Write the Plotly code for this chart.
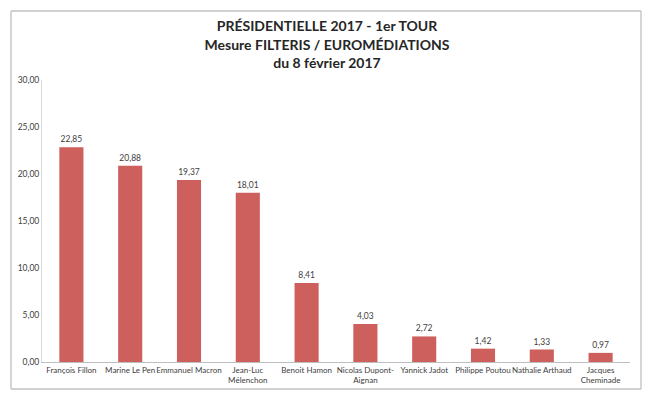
import plotly.graph_objects as go

## DATA ##
candidats = [
    "François Fillon", "Marine Le Pen", "Emmanuel Macron", "Jean-Luc<br>Mélenchon",
    "Benoit Hamon", "Nicolas Dupont-<br>Aignan", "Yannick Jadot", "Philippe Poutou",
    "Nathalie Arthaud", "Jacques<br>Cheminade",
]
scores = [22.85, 20.88, 19.37, 18.01, 8.41, 4.03, 2.72, 1.42, 1.33, 0.97]
y_ticks = [0, 5, 10, 15, 20, 25, 30]
titre = "PRÉSIDENTIELLE 2017 - 1er TOUR<br>Mesure FILTERIS / EUROMÉDIATIONS<br>du 8 février 2017"


def fr(v):
    """format décimal à la française"""
    return f"{v:.2f}".replace(".", ",")


fig = go.Figure()
fig.add_trace(go.Bar(
    x=candidats,
    y=scores,
    text=[fr(s) for s in scores],
    textposition="outside",
    textfont=dict(size=8.5, color="#404040"),
    cliponaxis=False,
    marker=dict(color="#CD5F5C", line=dict(width=0)),
    width=0.41,
))

fig.update_layout(
    title=dict(
        text=f"<b>{titre}</b>",
        x=0.497, xanchor="center",
        y=0.923, yanchor="top",
        font=dict(size=14, color="#262626"),
    ),
    xaxis=dict(
        showline=True, linecolor="#BFBFBF", linewidth=1,
        tickfont=dict(size=8, color="#404040"),
        tickangle=0,
        showgrid=False,
        automargin=False,
    ),
    yaxis=dict(
        range=[0, 30],
        tickmode="array",
        tickvals=y_ticks,
        ticktext=[fr(t) for t in y_ticks],
        tickfont=dict(size=8.5, color="#404040"),
        showline=True, linecolor="#D9D9D9", linewidth=1,
        showgrid=False, zeroline=False,
        ticklen=0,
        automargin=False,
    ),
    font=dict(family="Lato, Open Sans, sans-serif"),
    plot_bgcolor="white",
    paper_bgcolor="white",
    width=658, height=408,
    margin=dict(l=42, r=28, t=80, b=46, autoexpand=False),
    showlegend=False,
    bargap=0.59,
)

# cadre du graphique (4 côtés)
cadre = dict(left=-0.0527, right=1.0187, bottom=-0.0957, top=1.2447)
for x0, y0, x1, y1 in [
    (cadre["left"], cadre["bottom"], cadre["left"], cadre["top"]),
    (cadre["right"], cadre["bottom"], cadre["right"], cadre["top"]),
    (cadre["left"], cadre["top"], cadre["right"], cadre["top"]),
    (cadre["left"], cadre["bottom"], cadre["right"], cadre["bottom"]),
]:
    fig.add_shape(
        type="line", xref="paper", yref="paper",
        x0=x0, y0=y0, x1=x1, y1=y1,
        line=dict(color="#C0C0C0", width=1.3),
        layer="above",
    )

# la page a une marge de 8px par défaut
fig.write_html(
    "out.html",
    config=dict(displayModeBar=False),
    post_script="document.body.style.margin='0';",
)
